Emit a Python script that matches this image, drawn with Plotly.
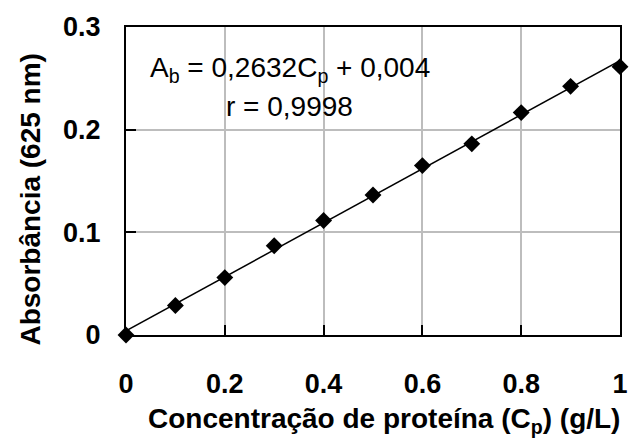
import plotly.graph_objects as go

conc = [0.0, 0.1, 0.2, 0.3, 0.4, 0.5, 0.6, 0.7, 0.8, 0.9, 1.0]
absorb = [0.0, 0.0288, 0.0559, 0.0869, 0.1115, 0.1364, 0.165, 0.1862, 0.2166, 0.2422, 0.2614]
slope = 0.2632
intercept = 0.004
eq_text = "A<sub>b</sub> = 0,2632C<sub>p</sub> + 0,004"
r_text = "r = 0,9998"
x_title = "Concentração de proteína (C<sub>p</sub>) (g/L)"
y_title = "Absorbância (625 nm)"
x_ticks = [0, 0.2, 0.4, 0.6, 0.8, 1]
x_ticktext = ["0", "0.2", "0.4", "0.6", "0.8", "1"]
y_ticks = [0, 0.1, 0.2, 0.3]
y_ticktext = ["0", "0.1", "0.2", "0.3"]

fit_x = [conc[0], conc[-1]]
fit_y = [slope * v + intercept for v in fit_x]

W, H = 640, 444
L, R, T, B = 126, 18, 22, 109
pw, ph = W - L - R, H - T - B

fig = go.Figure()
fig.add_trace(go.Scatter(x=fit_x, y=fit_y, mode="lines",
                         line=dict(color="black", width=1.5), showlegend=False))
fig.add_trace(go.Scatter(x=conc, y=absorb, mode="markers",
                         marker=dict(symbol="diamond", size=13, color="black"),
                         showlegend=False, cliponaxis=False))

font_fam = "Liberation Sans"
fig.add_annotation(x=0.331, y=0.2588, xref="x", yref="y", text=eq_text, showarrow=False,
                   xanchor="center", yanchor="middle",
                   font=dict(family=font_fam, size=28, color="black"))
fig.add_annotation(x=0.331, y=0.2224, xref="x", yref="y", text=r_text, showarrow=False,
                   xanchor="center", yanchor="middle",
                   font=dict(family=font_fam, size=28, color="black"))
# axis titles
fig.add_annotation(x=(385 - L) / pw, y=(H - 422 - B) / ph, xref="paper", yref="paper",
                   text=x_title, showarrow=False, xanchor="center", yanchor="middle",
                   font=dict(family=font_fam, size=28, color="black", weight="bold"))
fig.add_annotation(x=(30 - L) / pw, y=(H - 197 - B) / ph, xref="paper", yref="paper",
                   text=y_title, showarrow=False, textangle=-90,
                   xanchor="center", yanchor="middle",
                   font=dict(family=font_fam, size=28, color="black", weight="bold"))

axis_common = dict(showline=True, linecolor="black", linewidth=2, mirror=True,
                   showgrid=True, gridcolor="#bdbdbd", gridwidth=1.5,
                   ticks="inside", ticklen=10, tickwidth=2, tickcolor="black",
                   zeroline=False, layer="below traces",
                   tickfont=dict(family=font_fam, size=27, color="black", weight="bold"))

fig.update_xaxes(range=[0, 1], tickvals=x_ticks, ticktext=x_ticktext,
                 ticklabelstandoff=24, **axis_common)
fig.update_yaxes(range=[0, 0.3], tickvals=y_ticks, ticktext=y_ticktext,
                 ticklabelstandoff=18, **axis_common)

fig.update_layout(width=W, height=H, plot_bgcolor="white", paper_bgcolor="white",
                  margin=dict(l=L, r=R, t=T, b=B))
fig.write_html("out.html")
